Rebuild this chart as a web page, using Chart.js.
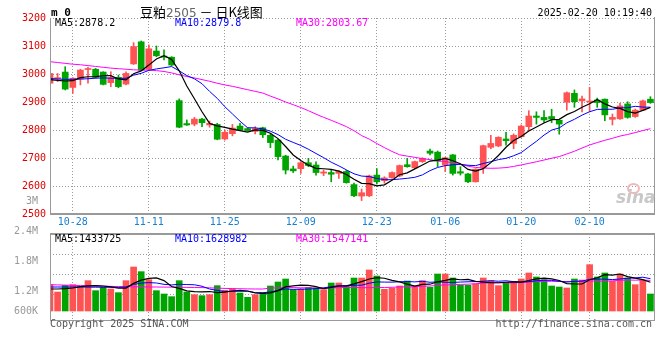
<!DOCTYPE html>
<html><head><meta charset="utf-8">
<script src="https://cdn.jsdelivr.net/npm/chart.js@4.4.1/dist/chart.umd.min.js"></script>
<style>
html,body{margin:0;padding:0;background:#fff;}
#wrap{position:relative;width:660px;height:360px;overflow:hidden;font-family:"DejaVu Sans Mono",monospace;}
#cp{position:absolute;left:0;top:0;}
#cv{position:absolute;left:0;top:192px;}
.t{position:absolute;white-space:nowrap;font-size:10px;line-height:10px;font-family:"DejaVu Sans Mono",monospace;}
</style></head><body>
<div id="wrap">
<canvas id="cp" width="660" height="234"></canvas>
<canvas id="cv" width="660" height="168"></canvas>
<div class="t" style="left:51px;top:7px;font-weight:bold;font-size:11px;line-height:11px">m 0</div>
<div class="t" style="left:140px;top:4px;font-family:'Noto Sans CJK SC';font-size:13px;line-height:15px">豆粕<span style="font-family:'DejaVu Sans';color:#666;font-size:12px">2505</span> － 日K线图</div>
<div class="t" style="right:8px;top:8px;color:#000">2025-02-20 10:19:40</div>
<div class="t" id="pl0" style="left:55px;top:18px;color:#000"></div>
<div class="t" id="pl1" style="left:175px;top:18px;color:#0000ff"></div>
<div class="t" id="pl2" style="left:296px;top:18px;color:#ff00ff"></div>
<div class="t" id="vl0" style="left:55px;top:234px;color:#000"></div>
<div class="t" id="vl1" style="left:175px;top:234px;color:#0000ff"></div>
<div class="t" id="vl2" style="left:296px;top:234px;color:#ff00ff"></div>
<div class="t" style="left:50px;top:319px;color:#555">Copyright 2025 SINA.COM</div>
<div class="t" style="right:8px;top:319px;color:#555">http://finance.sina.com.cn</div>
<div style="position:absolute;left:627px;top:183px;width:9px;height:7px;border:2px solid #f2b8b8;border-radius:50%"></div>
<div class="t" style="left:616px;top:189px;font-family:'DejaVu Sans';font-style:italic;font-weight:bold;font-size:17px;line-height:17px;color:#c8c8c8">sina</div>
</div>
<script>
const dates = ['10-23','10-24','10-25','10-28','10-29','10-30','10-31','11-01','11-04','11-05','11-06','11-07','11-08','11-11','11-12','11-13','11-14','11-15','11-18','11-19','11-20','11-21','11-22','11-25','11-26','11-27','11-28','11-29','12-02','12-03','12-04','12-05','12-06','12-09','12-10','12-11','12-12','12-13','12-16','12-17','12-18','12-19','12-20','12-23','12-24','12-25','12-26','12-27','12-30','12-31','01-02','01-03','01-06','01-07','01-08','01-09','01-10','01-13','01-14','01-15','01-16','01-17','01-20','01-21','01-22','01-23','01-24','01-27','02-05','02-06','02-07','02-10','02-11','02-12','02-13','02-14','02-17','02-18','02-19','02-20'];
const open = [2967,2983,3007,2952,2982,3016,3017,3007,2969,2988, 2964,3036,3115,3017,3082,3064,3060,2905,2823,2821, 2839,2818,2820,2768,2787,2814,2805,2795,2808,2781, 2764,2707,2661,2662,2683,2675,2646,2648,2645,2652, 2605,2564,2565,2639,2619,2630,2636,2676,2665,2687, 2725,2721,2675,2711,2651,2643,2615,2667,2738,2743, 2768,2752,2776,2812,2850,2845,2848,2835,2899,2931, 2904,2900,2907,2910,2838,2840,2893,2848,2871,2910];
const high = [3017,3002,3026,2987,3017,3024,3020,3008,3008,2996, 3008,3112,3118,3104,3100,3086,3062,2911,2836,2845, 2842,2832,2824,2800,2820,2824,2808,2812,2810,2786, 2767,2710,2671,2687,2699,2686,2657,2657,2655,2656, 2610,2589,2639,2662,2633,2651,2675,2699,2689,2701, 2732,2725,2701,2713,2669,2645,2662,2746,2781,2776, 2792,2786,2818,2869,2865,2869,2874,2836,2936,2943, 2921,2952,2914,2911,2857,2895,2901,2875,2907,2919];
const low = [2964,2973,2943,2931,2961,2967,2985,2961,2955,2951, 2961,3034,3013,3015,3062,3050,3030,2808,2816,2815, 2812,2810,2765,2764,2779,2798,2796,2786,2773,2737, 2693,2643,2648,2645,2669,2639,2637,2615,2627,2610, 2562,2548,2562,2607,2610,2627,2633,2667,2662,2684, 2711,2669,2651,2639,2639,2612,2614,2645,2733,2740, 2746,2733,2774,2798,2821,2827,2826,2785,2871,2881, 2865,2865,2881,2833,2818,2838,2842,2845,2869,2895];
const close = [3002,2987,2946,2985,3014,3019,2988,2963,2987,2955, 3002,3098,3014,3090,3065,3060,3032,2810,2818,2839, 2826,2824,2767,2792,2807,2800,2798,2805,2783,2755, 2705,2657,2654,2683,2673,2648,2650,2642,2652,2612, 2565,2576,2636,2615,2629,2648,2673,2669,2687,2699, 2717,2689,2701,2645,2646,2615,2660,2744,2752,2774, 2762,2781,2814,2850,2845,2836,2839,2821,2933,2901, 2911,2902,2898,2854,2845,2886,2845,2871,2904,2898];
const volume = [1317000,950000,1283000,1317000,1217000,1517000,1017000,1183000,1100000,917000, 1517000,2200000,1967000,1567000,1017000,850000,717000,1517000,950000,817000, 767000,817000,1267000,1033000,1117000,900000,683000,817000,900000,1250000, 1450000,1600000,1067000,1100000,1183000,1150000,1067000,1400000,1400000,1250000, 1650000,1650000,2050000,1750000,1083000,1133000,1250000,1500000,1250000,1517000, 1183000,1850000,1850000,1650000,1283000,1283000,1350000,1650000,1517000,1267000, 1400000,1450000,1600000,1900000,1700000,1567000,1250000,1200000,1150000,1600000, 1550000,2317000,1700000,1900000,1483000,1850000,1650000,1317000,1533000,850000];
// moving-average values before a full window exists
const ma5Head = [2980,2977,2975,2976];
const ma10Head = [2984,2982,2981,2981,2982,2983,2985,2986,2985];
const ma30Head = [3044,3041,3038,3035,3033,3030,3027,3024,3021,3019,3017,3015,3014,3014,3012,3009,3004,2997,2991,2986,2980,2974,2967,2961,2956,2950,2944,2938,2932];
const volMa5Head = [1100000,1100000,1120000,1150000];
const volMa10Head = [1200000,1200000,1200000,1200000,1200000,1195000,1190000,1190000,1185000];
const volMa30Head = [1317000,1305000,1295000,1285000,1270000,1262000,1252000,1243000,1232000,1220000,1215000,1210000,1205000,1200000,1200000,1195000,1190000,1185000,1180000,1175000,1170000,1160000,1140000,1130000,1120000,1112000,1105000,1100000,1100000];
const priceTicks = [2500,2600,2700,2800,2900,3000,3100,3200];
const dateTickLabels = ['10-28','11-11','11-25','12-09','12-23','01-06','01-20','02-10'];
const volTickValues = [600000,1200000,1800000,2400000,3000000];
const volTickLabels = ['600K','1.2M','1.8M','2.4M','3M'];
const volGridValues = [815000,1815000,2815000];
const priceLegend = ['MA5:2878.2','MA10:2879.8','MA30:2803.67'];
const volLegend = ['MA5:1433725','MA10:1628982','MA30:1547141'];

['pl0','pl1','pl2'].forEach((id,k)=>document.getElementById(id).textContent=priceLegend[k]);
['vl0','vl1','vl2'].forEach((id,k)=>document.getElementById(id).textContent=volLegend[k]);

function movAvg(vals,n,head){const out=[];for(let i=0;i<vals.length;i++){if(i<n-1){out.push(head[i]);}else{let s=0;for(let k=i-n+1;k<=i;k++)s+=vals[k];out.push(s/n);}}return out;}
const UP='#ff5252', DOWN='#00a400';
const col = close.map((c,i)=> c>=open[i] ? UP : DOWN);
const pts = arr => arr.map((v,i)=>({x:i,y:v}));
const dateTickIdx = dateTickLabels.map(d=>dates.indexOf(d));
const XMAX = 79.47;
const mono = {family:'DejaVu Sans Mono', size:10};
const GRID = '#9a9a9a', DASH = [1,2];

function xScale(show){
  return {type:'linear',min:0,max:XMAX,offset:false,
    afterBuildTicks:s=>{s.ticks=dateTickIdx.map(v=>({value:v}));},
    ticks:{display:show,autoSkip:false,maxRotation:0,padding:2,color:'#1a80d0',font:mono,callback:v=>dates[v]},
    grid:{color:GRID,lineWidth:1,drawTicks:false,offset:false},
    border:{display:false,dash:DASH},
    afterFit:s=>{s.height=show?20:0;}};
}
function frame(thickTop){
  return {id:'frame'+(thickTop?'v':'p'),afterDraw(chart){
    const c=chart.ctx,a=chart.chartArea;c.save();c.fillStyle='#999';
    const w=a.right-a.left,h=a.bottom-a.top;
    c.fillRect(a.left,a.top,1,h);c.fillRect(a.right,a.top-1,1,h+1);
    if(thickTop){c.fillRect(a.left,a.top-1,w+1,2);c.fillRect(a.left,a.bottom-1,w+1,1);}
    else{c.fillRect(a.left,a.bottom-1,w+1,2);}
    c.restore();}};
}
const lineDs=(data,color,yid,bw)=>({type:'line',data:pts(data),borderColor:color,borderWidth:bw||1,pointRadius:0,tension:0,fill:false,order:0,yAxisID:yid});

new Chart(document.getElementById('cp'),{
  type:'bar',
  data:{datasets:[
    lineDs(movAvg(close,5,ma5Head),'#000','y',1.2),
    lineDs(movAvg(close,10,ma10Head),'#0000ff','y'),
    lineDs(movAvg(close,30,ma30Head),'#ff00ff','y'),
    {type:'bar',data:close.map((c,i)=>({x:i,y:[Math.min(open[i],c),Math.max(open[i],c)]})),backgroundColor:col,barThickness:6,minBarLength:1,grouped:false,borderWidth:0,order:1},
    {type:'bar',data:close.map((c,i)=>({x:i,y:[low[i],high[i]]})),backgroundColor:col,barThickness:1,grouped:false,borderWidth:0,order:2}
  ]},
  options:{responsive:false,animation:false,devicePixelRatio:1,events:[],
    layout:{padding:{top:18,right:6,left:0,bottom:0}},
    plugins:{legend:{display:false},tooltip:{enabled:false}},
    scales:{
      x:xScale(true),
      y:{type:'linear',position:'left',min:2500,max:3200,
        afterBuildTicks:s=>{s.ticks=priceTicks.map(v=>({value:v}));},
        ticks:{autoSkip:false,color:'#e00000',padding:4,font:mono,callback:v=>String(v)},
        grid:{color:GRID,drawTicks:false},border:{display:false,dash:DASH},
        afterFit:s=>{s.width=50;}}
    }},
  plugins:[frame(false)]
});

new Chart(document.getElementById('cv'),{
  type:'bar',
  data:{datasets:[
    lineDs(movAvg(volume,5,volMa5Head),'#000','y',1.2),
    lineDs(movAvg(volume,10,volMa10Head),'#0000ff','y'),
    lineDs(movAvg(volume,30,volMa30Head),'#ff00ff','y'),
    {type:'bar',data:pts(volume),backgroundColor:col,barThickness:6,grouped:false,borderWidth:0,order:1,yAxisID:'y'}
  ]},
  options:{responsive:false,animation:false,devicePixelRatio:1,events:[],
    layout:{padding:{top:42,right:6,left:0,bottom:39}},
    plugins:{legend:{display:false},tooltip:{enabled:false}},
    scales:{
      x:xScale(false),
      yLab:{type:'linear',position:'left',min:600000,max:2340000,
        afterBuildTicks:s=>{s.ticks=volTickValues.map(v=>({value:v}));},
        ticks:{autoSkip:false,color:'#999',padding:4,font:{family:'DejaVu Sans Mono',size:10,lineHeight:1},
          callback:v=>{const k=volTickValues.indexOf(v);return k===0?[volTickLabels[0],'','']:volTickLabels[k];}},
        grid:{display:false},border:{display:false},
        afterFit:s=>{s.width=50;}},
      y:{type:'linear',position:'right',min:-500000,max:3850000,
        afterBuildTicks:s=>{s.ticks=volGridValues.map(v=>({value:v}));},
        ticks:{display:false},grid:{color:GRID,drawTicks:false},border:{display:false,dash:DASH},
        afterFit:s=>{s.width=0;}}
    }},
  plugins:[frame(true)]
});
</script>
</body></html>
